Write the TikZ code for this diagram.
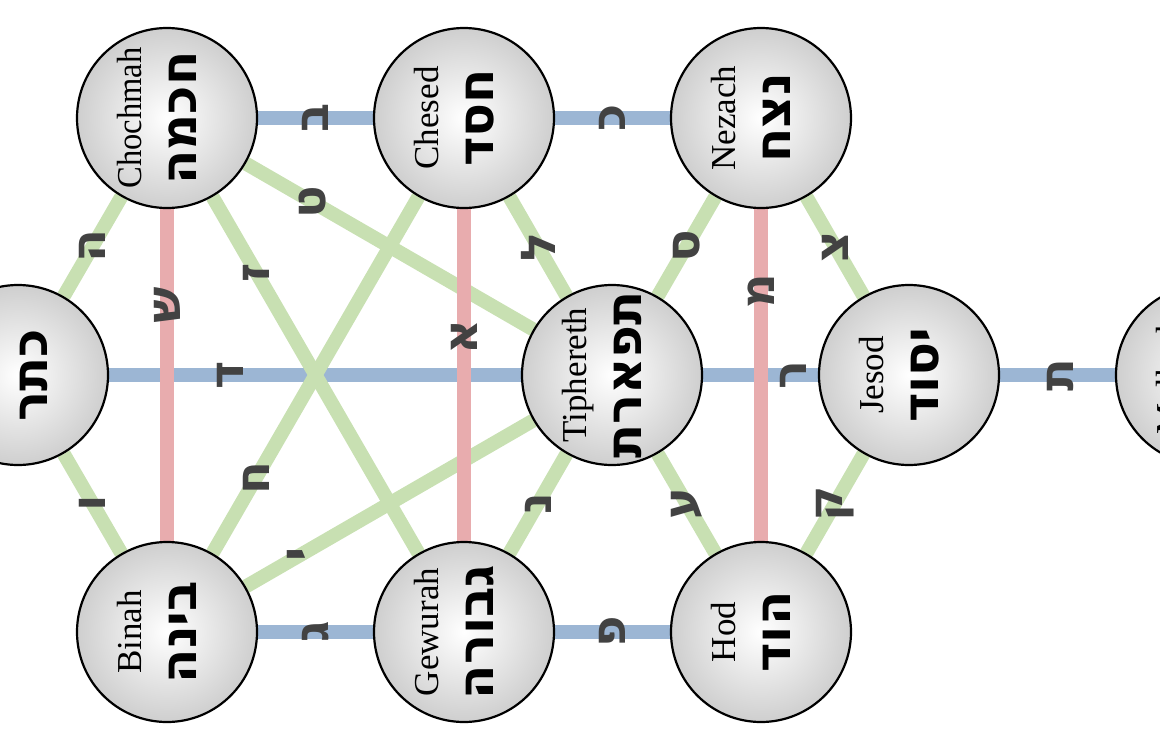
\documentclass[tikz,border=0pt]{standalone}
\usepackage{fontspec}
\setmainfont{Liberation Serif}
\newfontfamily\hebfont[Script=Hebrew]{DejaVu Sans}
\TeXXeTstate=1
\usetikzlibrary{backgrounds,calc}
\definecolor{pathblue}{RGB}{156,182,212}
\definecolor{pathred}{RGB}{232,172,174}
\definecolor{pathgreen}{RGB}{200,224,178}
\definecolor{lettergray}{RGB}{66,66,66}
\newcommand\mysephira[5]{%
  \node[seph] (#1) at (#2,#3) {};
  \node[latname] (#1lat) at ($(#1.center)+(-26,0)$) {#4};
  \node[hebname] (#1heb) at ($(#1.center)+(29,0)$) {\beginR#5\endR};
}
\begin{document}
\begin{tikzpicture}[x=1pt,y=-1pt,
  seph/.style={circle, draw=black, line width=2.2pt, minimum size=180pt, inner sep=0pt,
    inner color=white, outer color=gray!38},
  latname/.style={rotate=90, anchor=base, inner sep=0pt,
    font=\fontsize{35}{35}\selectfont},
  hebname/.style={rotate=90, anchor=base, inner sep=0pt,
    font=\hebfont\bfseries\fontsize{50}{50}\selectfont},
  pathletter/.style={rotate=90, inner sep=0pt, text=lettergray,
    font=\hebfont\bfseries\fontsize{48}{48}\selectfont},
  bluepath/.style={draw=pathblue, line width=14pt},
  greenpath/.style={draw=pathgreen, line width=14pt},
  redpath/.style={draw=pathred, line width=14pt}]
\useasboundingbox (0,0) rectangle (1160,750);
% sephiroth
\node[seph] (kether) at (18,375) {};
\node[hebname] (ketherheb) at ($(kether.center)+(29,0)$) {\beginR כתר\endR};
\mysephira{chok}{167}{118}{\scalebox{0.93}[1]{Chochmah}}{חכמה}
\mysephira{binah}{167}{632}{Binah}{בינה}
\mysephira{chesed}{464}{118}{Chesed}{חסד}
\mysephira{gew}{464}{632}{Gewurah}{גבורה}
\mysephira{tiph}{612}{375}{Tiphereth}{תפארת}
\mysephira{nezach}{761}{118}{Nezach}{נצח}
\mysephira{hod}{761}{632}{Hod}{הוד}
\mysephira{jesod}{909}{375}{Jesod}{יסוד}
\node[seph] (malkuth) at (1206,375) {};
\node[latname] (malkuthlat) at ($(malkuth.center)+(-26,0)$) {Malkuth};
% paths
\begin{pgfonlayer}{background}
\draw[bluepath] (kether) -- node[pathletter, pos=0.294] (pDalet) {ד} (tiph);
\draw[bluepath] (chok) -- node[pathletter, pos=0.5] (pBet) {ב} (chesed);
\draw[bluepath] (binah) -- node[pathletter, pos=0.5] (pGimel) {ג} (gew);
\draw[bluepath] (chesed) -- node[pathletter, pos=0.5] (pKaf) {כ} (nezach);
\draw[bluepath] (gew) -- node[pathletter, pos=0.5] (pPe) {פ} (hod);
\draw[bluepath] (tiph) -- node[pathletter, pos=0.79] (pResh) {ר} (jesod);
\draw[bluepath] (jesod) -- node[pathletter, pos=0.53] (pTav) {ת} (malkuth);
\draw[greenpath] (kether) -- node[pathletter, pos=0.5] (pHe) {ה} (chok);
\draw[greenpath] (kether) -- node[pathletter, pos=0.5] (pVav) {ו} (binah);
\draw[greenpath] (chok) -- node[pathletter, pos=0.233] (pTet) {ט} (tiph);
\draw[greenpath] (chok) -- node[pathletter, pos=0.214] (pZayin) {ז} (gew);
\draw[greenpath] (binah) -- node[pathletter, pos=0.211] (pHet) {ח} (chesed);
\draw[greenpath] (binah) -- node[pathletter, pos=0.19] (pYod) {י} (tiph);
\draw[greenpath] (chesed) -- node[pathletter, pos=0.5] (pLamed) {ל} (tiph);
\draw[greenpath] (gew) -- node[pathletter, pos=0.5] (pNun) {נ} (tiph);
\draw[greenpath] (tiph) -- node[pathletter, pos=0.5] (pSamekh) {ס} (nezach);
\draw[greenpath] (tiph) -- node[pathletter, pos=0.5] (pAyin) {ע} (hod);
\draw[greenpath] (nezach) -- node[pathletter, pos=0.5] (pTsadi) {צ} (jesod);
\draw[greenpath] (hod) -- node[pathletter, pos=0.5] (pQof) {ק} (jesod);
\draw[redpath] (chok) -- node[pathletter, pos=0.29] (pShin) {ש} (binah);
\draw[redpath] (chesed) -- node[pathletter, pos=0.386] (pAlef) {א} (gew);
\draw[redpath] (nezach) -- node[pathletter, pos=0.247] (pMem) {מ} (hod);
\end{pgfonlayer}
\end{tikzpicture}
\end{document}
